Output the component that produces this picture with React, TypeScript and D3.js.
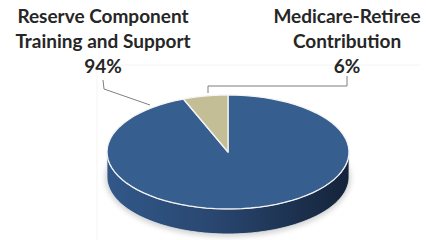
import React from "react";
import * as d3 from "d3";

const categories = ["Reserve Component Training and Support", "Medicare-Retiree Contribution"];
const shares = [94, 6];
const labelLines = [
  ["Reserve Component", "Training and Support", "94%"],
  ["Medicare-Retiree", "Contribution", "6%"],
];
const sliceColors = ["#365e8f", "#c4be97"];

const W = 426;
const H = 240;
const cx = 228;
const cy = 152;
const rx = 121;
const ry = 57;
const depth = 25;

// point on the top ellipse, angle 0 = 12 o'clock, clockwise
function pt(a: number, dy = 0): [number, number] {
  return [cx + rx * Math.sin(a), cy - ry * Math.cos(a) + dy];
}

function topPath(a0: number, a1: number) {
  const n = 80;
  const pts: [number, number][] = [[cx, cy]];
  for (let i = 0; i <= n; i++) pts.push(pt(a0 + ((a1 - a0) * i) / n));
  return d3.line()(pts) + "Z";
}

function sidePath(a0: number, a1: number) {
  const s = Math.max(a0, Math.PI / 2);
  const e = Math.min(a1, (3 * Math.PI) / 2);
  if (e <= s) return null;
  const n = 80;
  const pts: [number, number][] = [];
  for (let i = 0; i <= n; i++) pts.push(pt(s + ((e - s) * i) / n));
  for (let i = n; i >= 0; i--) pts.push(pt(s + ((e - s) * i) / n, depth));
  return d3.line()(pts) + "Z";
}

export default function App() {
  const arcs = d3.pie<number>().sort(null).startAngle(0).endAngle(2 * Math.PI)(shares);
  const font = "Lato, 'Open Sans', sans-serif";

  return (
    <svg width={W} height={H} style={{ position: "absolute", left: 0, top: 0, background: "#fff" }}>
      <defs>
        <linearGradient id="side" x1="0" x2="1" y1="0" y2="0">
          <stop offset="0" stopColor="#31588a" />
          <stop offset="0.45" stopColor="#29466f" />
          <stop offset="1" stopColor="#14233a" />
        </linearGradient>
        <filter id="glow" x="-10%" y="-10%" width="120%" height="130%">
          <feGaussianBlur stdDeviation="2.5" />
        </filter>
      </defs>

      {/* faint plot frame */}
      <path d="M97,240 V65 H420" fill="none" stroke="#f4f4f4" strokeWidth={1} />

      {/* soft shadow */}
      <ellipse cx={cx} cy={cy + depth + 1} rx={rx + 2} ry={ry + 2} fill="#b8b8b8" opacity={0.6} filter="url(#glow)" />

      {arcs.map((a, i) => {
        const d = sidePath(a.startAngle, a.endAngle);
        return d ? <path key={`s${i}`} d={d} fill={i === 0 ? "url(#side)" : "#8f8a6c"} stroke="#e8e8e8" strokeWidth={0.8} /> : null;
      })}
      {arcs.map((a, i) => (
        <path key={`t${i}`} d={topPath(a.startAngle, a.endAngle)} fill={sliceColors[i]} stroke="#f4f4f4" strokeWidth={1.3} strokeLinejoin="round" />
      ))}

      {/* leader lines */}
      <polyline points="103,80 104,89 150,105" fill="none" stroke="#7f7f7f" strokeWidth={1} />
      <polyline points="347,76 347,86 208,86 208,93" fill="none" stroke="#7f7f7f" strokeWidth={1} />

      {labelLines.map((lines, i) => (
        <text key={categories[i]} textAnchor="middle" fontFamily={font} fontWeight="bold" fontSize={19} fill="#262626">
          {lines.map((l, j) => (
            <tspan key={j} x={i === 0 ? 103 : 347} y={23 + j * 25}>
              {l}
            </tspan>
          ))}
        </text>
      ))}
    </svg>
  );
}
